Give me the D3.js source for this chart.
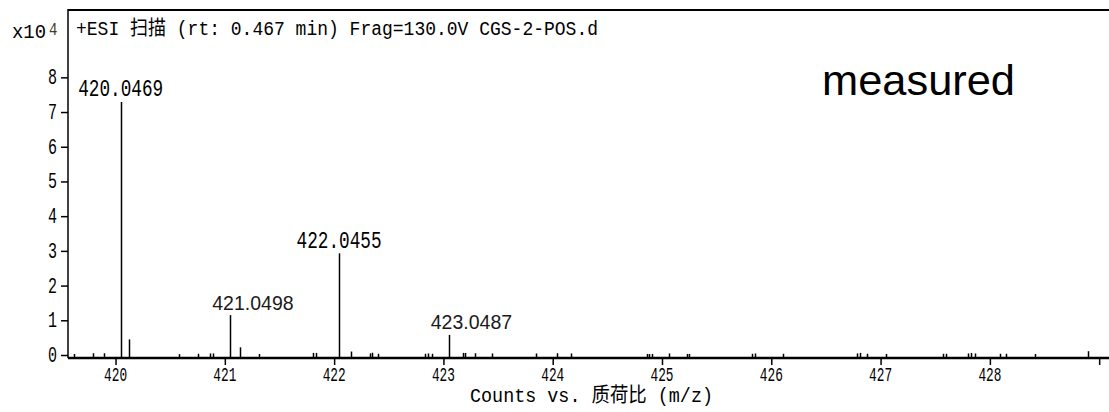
<!DOCTYPE html>
<html>
<head>
<meta charset="utf-8">
<script src="https://cdn.jsdelivr.net/npm/d3@7"></script>
<style>
  html, body { margin: 0; padding: 0; background: #fff; }
  svg { display: block; }
</style>
</head>
<body>
<div id="chart"></div>
<script>
// spectrum values
const peakMz = [420.0469, 420.126, 421.0498, 421.136, 422.0455, 423.0487];
const peakCounts = [72900, 4500, 11500, 2200, 29300, 5800];

const noiseMz = [419.62, 419.79, 419.89, 420.58, 420.75, 420.86, 420.89, 421.31, 421.81, 421.83,
  422.15, 422.33, 422.35, 422.40, 422.83, 422.86, 422.90, 423.18, 423.20, 423.29, 423.44,
  423.85, 424.04, 424.17, 424.86, 424.88, 424.91, 425.06, 425.23, 425.25, 425.82, 425.85,
  426.11, 426.78, 426.81, 426.88, 427.05, 427.57, 427.60, 427.80, 427.83, 427.86, 428.09,
  428.15, 428.41, 428.90];
const noiseCounts = [300, 500, 500, 250, 350, 450, 450, 300, 600, 600,
  1000, 450, 650, 350, 350, 450, 350, 600, 600, 500, 450,
  450, 500, 450, 300, 300, 300, 450, 300, 300, 350, 450,
  350, 450, 600, 350, 300, 350, 350, 450, 600, 450, 350,
  350, 300, 1100];

const labelMz = [420.0469, 421.0498, 422.0455, 423.0487];
const labelCounts = [72900, 11500, 29300, 5800];
const labelText = ['420.0469', '421.0498', '422.0455', '423.0487'];
const labelKind = ['mono', 'sans', 'mono', 'sans'];

const xTicks = [420, 421, 422, 423, 424, 425, 426, 427, 428, 429];
const yTicks = [0, 1, 2, 3, 4, 5, 6, 7, 8];

const titleText = '+ESI 扫描 (rt: 0.467 min) Frag=130.0V CGS-2-POS.d';
const xTitle = 'Counts vs. 质荷比 (m/z)';
const noteText = 'measured';

const WIDTH = 1109, HEIGHT = 412;
const LEFT = 68, TOP = 10, RIGHT = 1109, AXIS_Y = 358;
const MONO = '"Liberation Mono", "Noto Sans CJK SC", monospace';
const SANS = '"Liberation Sans", Arial, sans-serif';

const x = d3.scaleLinear().domain([419.565, 429.09]).range([LEFT, RIGHT]);
const y = d3.scaleLinear().domain([0, 9.94e4]).range([355, TOP]);

const svg = d3.select('#chart').append('svg')
    .attr('width', WIDTH).attr('height', HEIGHT);
svg.append('rect').attr('width', WIDTH).attr('height', HEIGHT).attr('fill', '#fff');

// bitmap-ish tall mono text
function monoText(parent, px, py, str, size, sy, anchor, len) {
    const t = parent.append('g').attr('transform', `translate(${px},${py}) scale(1,${sy})`)
      .append('text')
        .attr('font-family', MONO)
        .attr('font-size', size)
        .attr('text-anchor', anchor || 'start')
        .attr('fill', '#000')
        .text(str);
    if (len) t.attr('textLength', len).attr('lengthAdjust', 'spacingAndGlyphs');
    return t;
}

// frame
svg.append('line').attr('x1', LEFT).attr('x2', RIGHT).attr('y1', TOP).attr('y2', TOP)
    .attr('stroke', '#000').attr('stroke-width', 2);
svg.append('line').attr('x1', LEFT).attr('x2', LEFT).attr('y1', TOP - 1).attr('y2', AXIS_Y)
    .attr('stroke', '#000').attr('stroke-width', 1.5);

// y axis
const yAxis = svg.append('g').attr('transform', `translate(${LEFT},0)`)
    .call(d3.axisLeft(y).tickValues(yTicks.map(d => d * 1e4)).tickSize(7).tickFormat(''));
yAxis.select('.domain').remove();
yAxis.selectAll('.tick line').attr('stroke', '#000').attr('stroke-width', 1.5);
yTicks.forEach(d => monoText(svg, 57, y(d * 1e4) + 7, String(d), 15, 1.5, 'end'));

// x axis
const xAxis = svg.append('g').attr('transform', `translate(0,${AXIS_Y})`)
    .call(d3.axisBottom(x).tickValues(xTicks).tickSize(7).tickFormat(''));
xAxis.select('.domain').remove();
xAxis.selectAll('.tick line').attr('stroke', '#000').attr('stroke-width', 1.5);
xTicks.slice(0, -1).forEach(d => monoText(svg, x(d), 380.5, String(d), 14.5, 1.4, 'middle', 23));

// peaks
const allMz = peakMz.concat(noiseMz);
const allCounts = peakCounts.concat(noiseCounts);
svg.append('g').selectAll('line').data(allMz).enter().append('line')
    .attr('x1', d => Math.round(x(d)) + 0.5).attr('x2', d => Math.round(x(d)) + 0.5)
    .attr('y1', AXIS_Y)
    .attr('y2', (d, i) => y(allCounts[i]))
    .attr('stroke', '#000').attr('stroke-width', 1.5);

svg.append('line').attr('x1', LEFT).attr('x2', RIGHT).attr('y1', AXIS_Y).attr('y2', AXIS_Y)
    .attr('stroke', '#000').attr('stroke-width', 2.5);

// peak labels
labelMz.forEach((m, i) => {
    const top = y(labelCounts[i]);
    if (labelKind[i] === 'mono') {
        monoText(svg, x(m), top - 5.5, labelText[i], 17.5, 1.4, 'middle', 85);
    } else {
        svg.append('text').attr('x', x(m) - 18).attr('y', top - 5.5)
            .attr('font-family', SANS).attr('font-size', 19.5)
            .attr('fill', '#1a1a1a').text(labelText[i]);
    }
});

// title, exponent, axis title, note
monoText(svg, 76, 35, titleText, 16, 1.3, 'start', 522);
monoText(svg, 12, 37.5, 'x10', 16, 1.3, 'start', 34);
monoText(svg, 49, 34.5, '4', 14, 1.3, 'start').attr('fill', '#4a3a20');
monoText(svg, 470, 401.5, xTitle, 17, 1.2, 'start', 243);
svg.append('text').attr('x', 822).attr('y', 95)
    .attr('font-family', SANS).attr('font-size', 42).attr('fill', '#000')
    .attr('textLength', 193).attr('lengthAdjust', 'spacingAndGlyphs')
    .text(noteText);
</script>
</body>
</html>
